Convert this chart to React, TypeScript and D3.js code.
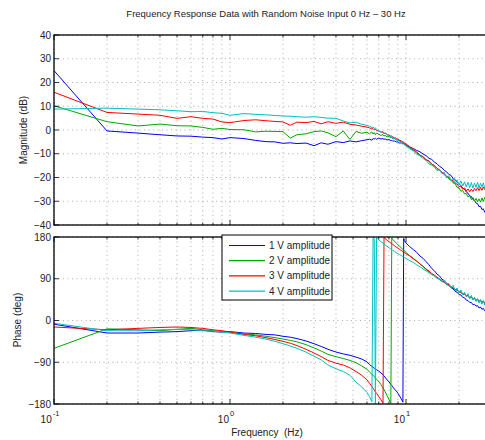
import React from "react";
import * as d3 from "d3";

const freq = [0.1,0.2,0.3,0.4,0.5,0.6,0.7,0.8,0.9,1.0,
1.2,1.4,1.6,1.8,2.0,
2.2,2.4,2.7,3.0,3.3,3.6,
4.0,4.4,4.8,5.2,5.6,6.0,
6.2,6.4,6.5,6.6,6.7,6.8,
7.0,7.2,7.4,7.5,7.6,7.8,
8.0,8.2,8.3,8.4,8.6,8.8,
9.0,9.2,9.4,9.6,9.7,9.8,
10,
10.5,11,11.5,12,12.5,13,13.5,14,14.5,15,
15.5,16,16.5,17,17.5,18,18.5,19,19.5,20,
20.5,21,21.5,22,22.5,23,23.5,24,24.5,25,
25.5,26,26.5,27,27.5,28,28.5,29,29.5,30];

const mag1V = [25,-0.4,-1.3,-2.0,-2.5,-2.6,-3.0,-3.2,-3.8,-3.2,
-3.6,-4.4,-4.9,-5.0,-5.6,
-5.4,-5.7,-5.5,-6.6,-5.4,-6.0,
-4.9,-5.3,-4.6,-5.0,-4.5,-4.1,
-3.9,-4.3,-3.6,-3.8,-3.5,-3.9,
-3.4,-3.8,-3.6,-4.0,-3.7,-4.2,
-4.0,-4.5,-4.3,-4.7,-4.6,-5.0,
-5.0,-5.5,-5.4,-5.9,-5.7,-6.1,
-6.3,
-7.2,-7.8,-8.6,-9.2,-10.1,-10.8,-11.9,-12.4,-13.5,-14.2,
-15.3,-15.9,-17.0,-17.6,-18.7,-19.1,-20.3,-20.8,-22.0,-22.6,
-23.4,-24.5,-24.9,-26.1,-26.6,-27.8,-28.0,-29.3,-29.6,-30.8,
-31.0,-32.3,-32.1,-33.5,-33.2,-34.6,-34.1,-35.3,-34.8,-35.8];

const mag2V = [10.2,3.5,1.7,2.5,1.8,1.7,1.1,0.3,0.7,0.2,
0.1,-0.8,-0.5,-0.6,-0.7,
-3.4,-2.0,-1.6,-0.7,-0.4,-1.2,
-2.8,-0.4,-4.0,-0.6,-1.4,-0.9,
-1.6,-0.8,-1.7,-1.1,-2.0,-1.3,
-1.8,-2.3,-1.9,-2.6,-2.2,-2.9,
-2.7,-3.3,-3.1,-3.7,-3.6,-4.1,
-4.3,-4.6,-5.0,-5.2,-5.6,-5.5,
-6.3,
-7.6,-8.4,-9.7,-10.6,-11.3,-12.5,-13.0,-14.4,-14.9,-16.2,
-17.0,-17.8,-18.9,-19.4,-20.6,-20.9,-22.3,-22.5,-24.1,-24.4,
-25.8,-25.5,-26.9,-26.7,-28.2,-27.6,-29.3,-28.4,-29.9,-28.8,
-30.2,-29.0,-30.4,-28.6,-30.1,-28.4,-29.7,-28.1,-29.3,-27.9];

const mag3V = [15.9,7.4,6.7,6.2,4.9,5.6,4.9,4.6,3.4,3.1,
4.0,4.3,3.9,3.6,3.4,
2.0,3.3,3.1,3.6,2.6,3.5,
2.8,3.3,2.4,2.1,1.6,1.2,
0.9,0.4,0.6,0.1,0.3,-0.2,
-0.5,-0.8,-1.0,-1.5,-1.3,-1.9,
-2.2,-2.6,-2.5,-3.0,-3.2,-3.5,
-3.9,-4.3,-4.6,-5.0,-5.1,-5.5,
-5.9,
-7.0,-8.3,-9.2,-10.6,-11.2,-12.6,-13.1,-14.5,-15.0,-16.2,
-16.7,-17.9,-18.3,-19.6,-19.9,-21.1,-21.3,-22.6,-22.7,-23.9,
-23.6,-25.0,-24.4,-25.7,-24.8,-26.0,-24.9,-25.9,-24.6,-25.6,
-24.3,-25.5,-24.2,-25.4,-24.0,-25.1,-23.9,-25.2,-24.1,-24.8];

const mag4V = [8.8,9.2,8.8,8.5,8.1,7.7,7.8,7.3,7.0,6.2,
6.9,6.6,6.4,6.1,5.9,
5.8,5.6,5.4,5.6,5.3,5.0,
4.9,3.8,3.0,3.3,2.4,1.9,
1.6,1.0,1.3,0.6,0.9,0.2,
-0.3,-0.9,-0.6,-1.6,-1.1,-2.0,
-2.4,-2.9,-2.7,-3.5,-3.4,-4.1,
-4.3,-4.9,-5.2,-5.6,-5.9,-6.2,
-6.8,
-7.9,-8.8,-10.2,-10.9,-12.0,-12.8,-14.3,-14.8,-15.6,-17.1,
-16.6,-18.4,-17.8,-20.2,-19.3,-21.5,-20.2,-22.6,-21.0,-23.1,
-21.4,-23.6,-21.8,-24.0,-22.0,-24.3,-22.1,-24.5,-22.3,-24.2,
-22.0,-24.4,-22.4,-24.1,-22.2,-24.6,-22.5,-24.3,-22.7,-24.0];

const phase1V = [-8,-27,-27,-25,-24,-22,-21,-24,-25,-24,
-27,-28,-30,-31,-34,
-36,-39,-44,-50,-56,-62,
-68,-72,-75,-79,-83,-89,
-95,-99,-101,-103,-105,-106,
-109,-113,-117,-120,-122,-128,
-132,-138,-140,-143,-148,-152,
-157,-163,-169,-176,177,172,
167,
159,153,147,139,134,127,120,112,107,100,
96,89,86,80,77,71,68,63,61,56,
55,50,49,44,43,39,39,34,35,31,
32,27,29,24,26,21,24,19,23,18];

const phase2V = [-60,-18,-20,-22,-19,-17,-20,-22,-24,-25,
-29,-31,-34,-37,-40,
-43,-46,-52,-59,-66,-73,
-78,-82,-86,-91,-98,-105,
-111,-116,-118,-121,-124,-127,
-131,-138,-145,-149,-153,-162,
-170,-178,178,175,171,167,
163,160,157,153,152,150,
146,
140,134,128,122,116,110,105,100,96,92,
88,84,82,77,76,71,70,65,66,60,
62,56,58,52,54,48,51,45,48,42,
46,40,44,38,42,36,40,34,38,33];

const phase3V = [-14,-20,-17,-15,-14,-15,-17,-20,-22,-25,
-30,-33,-37,-41,-45,
-49,-54,-62,-70,-78,-86,
-92,-96,-102,-110,-118,-128,
-135,-142,-146,-150,-154,-157,
-164,-171,-178,179,177,173,
170,167,165,164,161,158,
156,153,151,149,148,146,
144,
139,133,128,122,117,111,107,101,98,93,
90,86,83,79,77,73,71,67,66,62,
61,57,57,53,54,49,51,46,48,44,
46,41,44,39,42,37,41,36,39,35];

const phase4V = [-6,-22,-22,-20,-19,-20,-22,-23,-25,-27,
-32,-36,-40,-45,-50,
-55,-60,-68,-77,-85,-96,
-104,-110,-118,-133,-143,-155,
-164,-175,179,177,-179,178,
174,170,167,165,163,160,
157,154,153,151,149,146,
144,142,140,138,137,136,
134,
129,125,120,116,111,107,103,99,96,91,
90,84,86,78,80,71,76,65,70,60,
66,55,61,51,58,47,54,44,50,41,
47,38,45,35,43,33,41,31,39,30];

const seriesNames = ["1 V amplitude", "2 V amplitude", "3 V amplitude", "4 V amplitude"];
const seriesColors = ["#0000ff", "#00a800", "#ff0000", "#00c0c0"];
const magSeries = [mag1V, mag2V, mag3V, mag4V];
const phaseSeries = [phase1V, phase2V, phase3V, phase4V];

const magTicks = [-40, -30, -20, -10, 0, 10, 20, 30, 40];
const phaseTicks = [-180, -90, 0, 90, 180];
const decadeTicks = [0.1, 1, 10];
const decadeExps = ["-1", "0", "1"];
const titleText = "Frequency Response Data with Random Noise Input 0 Hz \u2013 30 Hz";

const W = 485, H = 440;
const L = 54, R = 490;
const FONT = "'Liberation Sans', Arial, Helvetica, sans-serif";

const fmt = (v: number) => (v < 0 ? "\u2212" + Math.abs(v) : String(v));

function Panel({ y, ticks, series, clipId, showX }: any) {
  const x = d3.scaleLog().domain([0.1, 30]).range([L, R]);
  const [top, bottom] = [y.range()[1], y.range()[0]];
  const minors: number[] = [];
  for (const d of [0.1, 1, 10]) for (let k = 2; k <= 9; k++) if (d * k <= 30) minors.push(d * k);
  const line = d3.line<number>().x((_, i) => x(freq[i])).y((v) => y(v));
  return (
    <g>
      <defs>
        <clipPath id={clipId}>
          <rect x={L} y={top} width={R - L} height={bottom - top} />
        </clipPath>
      </defs>
      <rect x={L} y={top} width={R - L} height={bottom - top} fill="#fff" />
      {/* grid */}
      <g stroke="#777" strokeWidth={0.6} strokeDasharray="1 3.5">
        {ticks.map((t: number) => (
          <line key={"h" + t} x1={L} x2={R} y1={y(t)} y2={y(t)} />
        ))}
        {[...decadeTicks, ...minors].map((f: number) => (
          <line key={"v" + f} x1={x(f)} x2={x(f)} y1={top} y2={bottom} />
        ))}
      </g>
      {/* data */}
      <g clipPath={`url(#${clipId})`} fill="none" strokeWidth={1}>
        {series.map((s: number[], i: number) => (
          <path key={i} d={line(s) || ""} stroke={seriesColors[i]} />
        ))}
      </g>
      {/* ticks */}
      <g stroke="#000" strokeWidth={0.8}>
        {ticks.map((t: number) => (
          <g key={"t" + t}>
            <line x1={L} x2={L + 5} y1={y(t)} y2={y(t)} />
            <line x1={R} x2={R - 5} y1={y(t)} y2={y(t)} />
          </g>
        ))}
        {decadeTicks.map((f: number) => (
          <g key={"xt" + f}>
            <line x1={x(f)} x2={x(f)} y1={bottom} y2={bottom - 5} />
            <line x1={x(f)} x2={x(f)} y1={top} y2={top + 5} />
          </g>
        ))}
        {minors.map((f: number) => (
          <g key={"xm" + f}>
            <line x1={x(f)} x2={x(f)} y1={bottom} y2={bottom - 2.5} />
            <line x1={x(f)} x2={x(f)} y1={top} y2={top + 2.5} />
          </g>
        ))}
      </g>
      <rect x={L} y={top} width={R - L} height={bottom - top} fill="none" stroke="#000" strokeWidth={1.3} />
      {/* y labels */}
      <g fontFamily={FONT} fontSize={10} fill="#222" textAnchor="end">
        {ticks.map((t: number) => (
          <text key={"yl" + t} x={L - 3} y={y(t) + 3.5}>{fmt(t)}</text>
        ))}
      </g>
      {showX && (
        <g fontFamily={FONT} fill="#222">
          {decadeTicks.map((f: number, i: number) => (
            <text key={"xl" + f} x={x(f) - 4} y={423} fontSize={10} textAnchor="middle">
              10<tspan dx={1} dy={-7} fontSize={7.5}>{decadeExps[i]}</tspan>
            </text>
          ))}
        </g>
      )}
    </g>
  );
}

export default function App() {
  const yMag = d3.scaleLinear().domain([-40, 40]).range([225, 35]);
  const yPh = d3.scaleLinear().domain([-180, 180]).range([404, 237]);
  const legX = 222, legY = 235, legW = 110, legH = 65;
  return (
    <svg width={W} height={H} style={{ position: "absolute", left: 0, top: 0, display: "block" }}>
      <rect width={W} height={H} fill="#fff" />
      <text x={266} y={17} fontFamily={FONT} fontSize={9.5} textAnchor="middle" fill="#222">{titleText}</text>
      <Panel y={yMag} ticks={magTicks} series={magSeries} clipId="clipMag" showX={false} />
      <Panel y={yPh} ticks={phaseTicks} series={phaseSeries} clipId="clipPh" showX={true} />
      <text transform="translate(27,130) rotate(-90)" fontFamily={FONT} fontSize={10} textAnchor="middle" fill="#222">Magnitude (dB)</text>
      <text transform="translate(21,320) rotate(-90)" fontFamily={FONT} fontSize={10} textAnchor="middle" fill="#222">Phase (deg)</text>
      <text x={267} y={436} fontFamily={FONT} fontSize={10} textAnchor="middle" fill="#222" xmlSpace="preserve">Frequency  (Hz)</text>
      <g>
        <rect x={legX} y={legY} width={legW} height={legH} fill="#fff" stroke="#000" strokeWidth={1} />
        {seriesNames.map((n, i) => {
          const yy = legY + 10.5 + i * 15.2;
          return (
            <g key={n}>
              <line x1={legX + 7} x2={legX + 43} y1={yy} y2={yy} stroke={seriesColors[i]} strokeWidth={1.2} />
              <text x={legX + 47} y={yy + 3.5} fontFamily={FONT} fontSize={10} fill="#222">{n}</text>
            </g>
          );
        })}
      </g>
    </svg>
  );
}
